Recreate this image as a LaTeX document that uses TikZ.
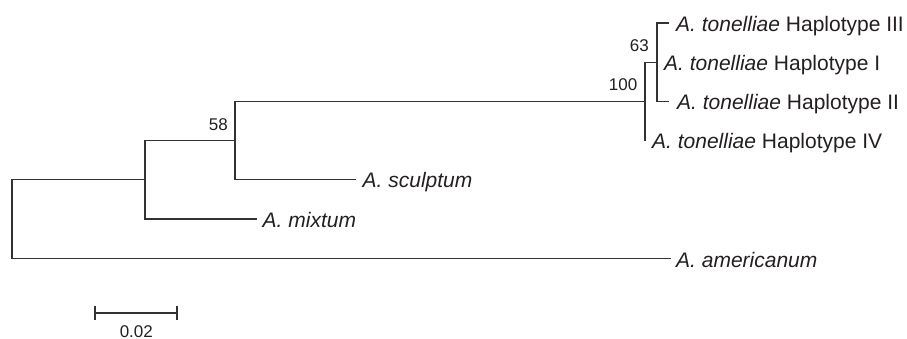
\documentclass[tikz,border=0pt]{standalone}
\usepackage{fontspec}
\setmainfont{Liberation Sans}
\definecolor{ink}{RGB}{35,31,32}
\definecolor{branch}{RGB}{50,50,50}
\begin{document}
\begin{tikzpicture}[x=1pt,y=-1pt,
  br/.style={draw=branch,line width=1.3pt,line cap=rect},
  leaf/.style={anchor=base west,inner sep=0pt,text=ink,font=\fontsize{21}{25}\selectfont},
  boot/.style={anchor=base east,inner sep=0pt,text=ink,font=\fontsize{17}{20}\selectfont},
  scalelab/.style={anchor=base,inner sep=0pt,text=ink,font=\fontsize{17}{20}\selectfont}]
\useasboundingbox (0,0) rectangle (907,339);
% internal nodes
\coordinate (root) at (12,218.9);
\coordinate (n2) at (145,179.5);
\coordinate (n58) at (235,140.3);
\coordinate (n100) at (645,101.3);
\coordinate (n63) at (657,62.2);
% leaf tips
\coordinate (tIII) at (668,23);
\coordinate (tI) at (657,62.2);
\coordinate (tII) at (668,101.3);
\coordinate (tIV) at (645,140.3);
\coordinate (tsc) at (355,179.5);
\coordinate (tmi) at (256,219);
\coordinate (tam) at (670,258.5);
% branches
\draw[br] (root) |- (n2);
\draw[br] (root) |- (tam);
\draw[br] (n2) |- (n58);
\draw[br] (n2) |- (tmi);
\draw[br] (n58) |- (n100);
\draw[br] (n58) |- (tsc);
\draw[br] (n100) |- (n63);
\draw[br] (n100) |- (tIV);
\draw[br] (n63) |- (tIII);
\draw[br] (n63) |- (tII);
% leaf labels
\node[leaf] (lIII) at ([shift={(8,8.5)}]tIII) {\textit{A. tonelliae} Haplotype III};
\node[leaf] (lI) at ([shift={(7,8.5)}]tI) {\textit{A. tonelliae} Haplotype I};
\node[leaf] (lII) at ([shift={(9,8.5)}]tII) {\textit{A. tonelliae} Haplotype II};
\node[leaf] (lIV) at ([shift={(7,8.5)}]tIV) {\textit{A. tonelliae} Haplotype IV};
\node[leaf] (lsc) at ([shift={(7.5,8.5)}]tsc) {\textit{A. sculptum}};
\node[leaf] (lmi) at ([shift={(6.5,8.5)}]tmi) {\textit{A. mixtum}};
\node[leaf] (lam) at ([shift={(6,8.5)}]tam) {\textit{A. americanum}};
% bootstrap values
\node[boot] (b63) at ([shift={(-8,-10.7)}]n63) {63};
\node[boot] (b100) at ([shift={(-7.5,-10.5)}]n100) {100};
\node[boot] (b58) at ([shift={(-7,-9.5)}]n58) {58};
% scale bar
\coordinate (sbL) at (95,313);
\coordinate (sbR) at (177,313);
\draw[br,line cap=butt] (sbL) -- (sbR);
\draw[br,line cap=butt] ([yshift=-7]sbL) -- ([yshift=7]sbL);
\draw[br,line cap=butt] ([yshift=-7]sbR) -- ([yshift=7]sbR);
\node[scalelab] (sblab) at (136.3,337) {0.02};
\end{tikzpicture}
\end{document}
